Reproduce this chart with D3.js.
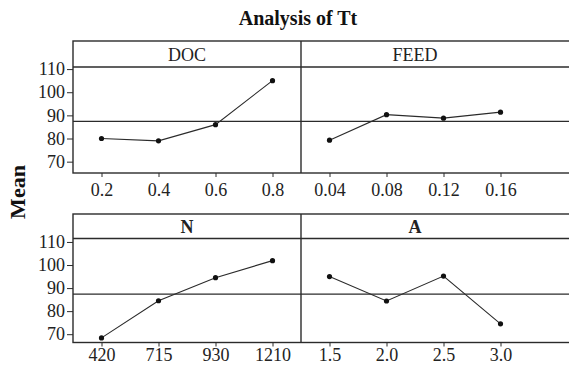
<!DOCTYPE html>
<html>
<head>
<meta charset="utf-8">
<script src="https://d3js.org/d3.v7.min.js"></script>
<style>
  body { margin: 0; background: #fff; }
  svg { display: block; font-family: "Liberation Serif", "DejaVu Serif", serif; }
</style>
</head>
<body>
<svg width="569" height="371"></svg>
<script>
// factors and their levels
var factors = ["DOC", "FEED", "N", "A"];
var docLevels = ["0.2", "0.4", "0.6", "0.8"];
var feedLevels = ["0.04", "0.08", "0.12", "0.16"];
var nLevels = ["420", "715", "930", "1210"];
var aLevels = ["1.5", "2.0", "2.5", "3.0"];

// mean Tt at each level
var docMeans = [80.0, 79.0, 86.0, 105.0];
var feedMeans = [79.3, 90.3, 88.8, 91.4];
var nMeans = [68.4, 84.5, 94.5, 101.9];
var aMeans = [95.0, 84.4, 95.2, 74.5];

var grandMean = 87.4;
var yTicks = [70, 80, 90, 100, 110];

var svg = d3.select("svg");
var ink = "#2b2b2b";

// layout
var left = 73, mid = 301, right = 529, farRight = 575;
var rows = [
  {top: 41, strip: 67, bottom: 173, domain: [65.1, 110.9], pad: 6},
  {top: 214, strip: 238.5, bottom: 342.5, domain: [66.4, 111.5], pad: 2}
];
var panels = [
  {name: factors[0], levels: docLevels, means: docMeans, row: 0, col: 0},
  {name: factors[1], levels: feedLevels, means: feedMeans, row: 0, col: 1},
  {name: factors[2], levels: nLevels, means: nMeans, row: 1, col: 0},
  {name: factors[3], levels: aLevels, means: aMeans, row: 1, col: 1}
];

svg.append("text")
    .attr("x", 298).attr("y", 25)
    .attr("text-anchor", "middle")
    .attr("font-weight", "bold")
    .attr("font-size", 20)
    .attr("fill", "#111")
    .text("Analysis of Tt");

svg.append("text")
    .attr("transform", "translate(25,192) rotate(-90)")
    .attr("text-anchor", "middle")
    .attr("font-weight", "bold")
    .attr("font-size", 22)
    .attr("fill", "#111")
    .text("Mean");

rows.forEach(function(r, ri) {
  var y = d3.scaleLinear().domain(r.domain).range([r.bottom, r.strip]);
  r.y = y;

  var g = svg.append("g");
  // outer frame
  g.append("rect")
      .attr("x", left).attr("y", r.top)
      .attr("width", farRight - left).attr("height", r.bottom - r.top)
      .attr("fill", "none").attr("stroke", ink).attr("stroke-width", 1.4);
  g.append("line")
      .attr("x1", left).attr("x2", farRight)
      .attr("y1", r.strip).attr("y2", r.strip)
      .attr("stroke", ink).attr("stroke-width", 1.4);
  g.append("line")
      .attr("x1", mid).attr("x2", mid)
      .attr("y1", r.top).attr("y2", r.bottom)
      .attr("stroke", ink).attr("stroke-width", 1.4);
  // reference line at grand mean
  g.append("line")
      .attr("x1", left).attr("x2", farRight)
      .attr("y1", y(grandMean)).attr("y2", y(grandMean))
      .attr("stroke", ink).attr("stroke-width", 1.2);

  var yAxis = g.append("g")
      .attr("transform", "translate(" + left + ",0)")
      .call(d3.axisLeft(y).tickValues(yTicks).tickSize(6).tickPadding(2));
  yAxis.select(".domain").remove();
  yAxis.selectAll("line").attr("stroke", ink);
  yAxis.selectAll("text")
      .attr("font-family", "Liberation Serif, serif")
      .attr("font-size", 18).attr("fill", "#222");
});

panels.forEach(function(p) {
  var r = rows[p.row];
  var x0 = p.col === 0 ? left : mid;
  var x1 = p.col === 0 ? mid : right;
  var x = d3.scalePoint().domain(p.levels).range([x0, x1]).padding(0.5);
  var y = r.y;

  var g = svg.append("g");

  g.append("text")
      .attr("x", (x0 + x1) / 2).attr("y", r.strip - 6)
      .attr("text-anchor", "middle")
      .attr("font-size", 18)
      .attr("font-weight", p.row === 1 ? "bold" : "normal")
      .attr("fill", "#222")
      .text(p.name);

  var xAxis = g.append("g")
      .attr("transform", "translate(0," + r.bottom + ")")
      .call(d3.axisBottom(x).tickSize(4).tickPadding(r.pad));
  xAxis.select(".domain").remove();
  xAxis.selectAll("line").attr("stroke", ink);
  xAxis.selectAll("text")
      .attr("font-family", "Liberation Serif, serif")
      .attr("font-size", 18).attr("fill", "#222");

  var pts = p.levels.map(function(l, i) { return {level: l, mean: p.means[i]}; });

  g.append("path")
      .datum(pts)
      .attr("fill", "none")
      .attr("stroke", ink)
      .attr("stroke-width", 1.1)
      .attr("d", d3.line()
          .x(function(d) { return x(d.level); })
          .y(function(d) { return y(d.mean); }));

  g.selectAll("circle")
      .data(pts)
      .enter().append("circle")
      .attr("cx", function(d) { return x(d.level); })
      .attr("cy", function(d) { return y(d.mean); })
      .attr("r", 2.6)
      .attr("fill", "#111");
});
</script>
</body>
</html>
